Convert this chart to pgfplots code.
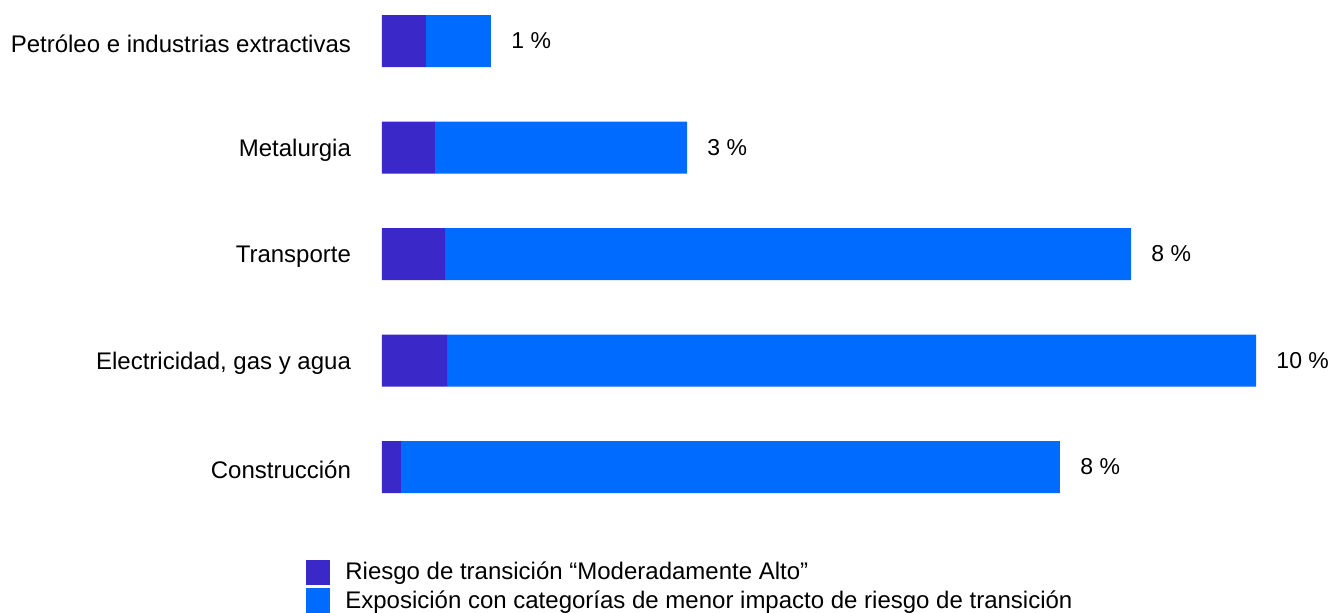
\documentclass[border=0pt]{standalone}
\usepackage{pgfplots}
\pgfplotsset{compat=1.18}
\usepackage{fontspec}
\setmainfont{Liberation Sans}
\definecolor{cdark}{HTML}{3B28C8}
\definecolor{clight}{HTML}{006CFF}
\tikzset{vlab/.style={anchor=west, font=\fontsize{11.5}{13}\selectfont, xshift=6.7pt}}
\begin{document}
\begin{tikzpicture}
\useasboundingbox (0,0) rectangle (665pt,306pt);
\begin{axis}[
  at={(191pt,45.875pt)}, anchor=south west,
  scale only axis, width=437pt, height=266.25pt,
  xbar stacked, bar width=26pt,
  xmin=0, xmax=10, ymin=-0.5, ymax=4.5, y dir=reverse,
  ytick={0,1,2,3,4},
  yticklabels={Petróleo e industrias extractivas,Metalurgia,Transporte,{Electricidad, gas y agua},Construcción},
  xtick=\empty,
  axis line style={draw=none}, major tick length=0pt,
  yticklabel style={font=\fontsize{12}{14}\selectfont, xshift=-12pt, yshift=-1.5pt},
  clip=false,
  legend cell align=left,
  legend style={at={(-0.087,-0.07)}, anchor=north west, draw=none, fill=none,
    font=\fontsize{12}{14}\selectfont, row sep=0pt, inner sep=0pt,
    /tikz/every odd column/.append style={column sep=5.5pt}},
]
\addplot[fill=cdark, draw=none, legend image code/.code={\fill[cdark] (0pt,-6.25pt) rectangle (12pt,6.25pt);}] coordinates {(0.503,0) (0.606,1) (0.721,2) (0.744,3) (0.217,4)};
\addplot[fill=clight, draw=none, legend image code/.code={\fill[clight] (0pt,-6.25pt) rectangle (12pt,6.25pt);}] coordinates {(0.744,0) (2.884,1) (7.849,2) (9.256,3) (7.540,4)};
\legend{Riesgo de transición “Moderadamente Alto”,Exposición con categorías de menor impacto de riesgo de transición}
\node[vlab] at (axis cs:1.247,0) {1 \%};
\node[vlab] at (axis cs:3.490,1) {3 \%};
\node[vlab] at (axis cs:8.570,2) {8 \%};
\node[vlab] at (axis cs:10.0,3) {10 \%};
\node[vlab] at (axis cs:7.757,4) {8 \%};
\end{axis}
\end{tikzpicture}
\end{document}
